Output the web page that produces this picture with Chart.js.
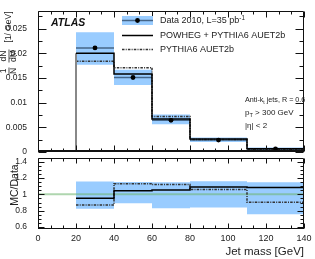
<!DOCTYPE html>
<html lang="en">
<head>
<meta charset="UTF-8">
<title>Jet mass</title>
<script src="https://cdn.jsdelivr.net/npm/chart.js"></script>
<style>
  body { margin: 0; background: #fff; }
  #wrap { position: relative; width: 315px; height: 259px; overflow: hidden; background: #fff; }
  canvas { position: absolute; left: 0; }
  #topChart { top: 0; }
  #ratioChart { top: 150px; }
</style>
</head>
<body>
<div id="wrap">
  <canvas id="topChart" width="315" height="160"></canvas>
  <canvas id="ratioChart" width="315" height="109"></canvas>
</div>
<script>
// bins in jet mass [GeV]
const binEdges = [20, 40, 60, 80, 110, 140];

// upper panel: 1/N dN/dM [1/GeV]
const dataValues = [0.0211, 0.0151, 0.0064, 0.0024, 0.0006];
const dataBandHigh = [0.0243, 0.0167, 0.0076, 0.0029, 0.0009];
const dataBandLow = [0.0177, 0.0136, 0.0056, 0.0020, 0.0004];
const powhegValues = [0.0200, 0.0158, 0.0067, 0.0026, 0.00065];
const pythiaValues = [0.0184, 0.0171, 0.0072, 0.0025, 0.00055];

// lower panel: MC/Data
const ratioBandHigh = [1.157, 1.153, 1.15, 1.162, 1.15];
const ratioBandLow = [0.822, 0.89, 0.83, 0.838, 0.757];
const ratioPowheg = [0.953, 1.043, 1.055, 1.09, 1.083];
const ratioPythia = [0.871, 1.13, 1.12, 1.06, 0.904];

const xTicks = [0, 20, 40, 60, 80, 100, 120, 140];
const topTicks = [0, 0.005, 0.01, 0.015, 0.02, 0.025];
const ratioTicks = [0.6, 0.8, 1, 1.2, 1.4];

const FONT = "'Liberation Sans', Arial, Helvetica, sans-serif";
const BAND = '#99ccff';
const DATA_LINE = '#466688';

Chart.defaults.font.family = FONT;
Chart.defaults.color = '#222';

function stepPoints(values) {
    const pts = [];
    values.forEach((v, i) => {
        pts.push({ x: binEdges[i], y: v });
        pts.push({ x: binEdges[i + 1], y: v });
    });
    return pts;
}

function binSegments(values) {
    const pts = [];
    values.forEach((v, i) => {
        pts.push({ x: binEdges[i], y: v });
        pts.push({ x: binEdges[i + 1], y: v });
        pts.push({ x: binEdges[i + 1], y: null });
    });
    return pts;
}

const binCentres = binEdges.slice(0, -1).map((e, i) => (e + binEdges[i + 1]) / 2);

function fmt(v) {
    return String(parseFloat(v.toFixed(4)));
}

// ROOT-like frame with inward ticks on all sides
function frameTicks(o) {
    return {
        id: 'frameTicks',
        afterDatasetsDraw(chart) {
            const { ctx, chartArea: a, scales: { x, y } } = chart;
            ctx.save();
            ctx.strokeStyle = '#111';
            ctx.lineWidth = 1;
            ctx.beginPath();
            const L = Math.round(a.left) + 0.5, R = Math.round(a.right) - 0.5;
            const T = Math.round(a.top) + 0.5, B = Math.round(a.bottom) - 0.5;
            ctx.moveTo(L, B); ctx.lineTo(L, T); ctx.lineTo(R, T); ctx.lineTo(R, B);
            // x ticks
            for (let i = 0; i <= 21; i++) {
                const v = i * 20 / 3;
                const px = Math.round(x.getPixelForValue(v)) + 0.5;
                const len = i % 3 === 0 ? o.xMaj : o.xMin;
                ctx.moveTo(px, B); ctx.lineTo(px, B - len);
                ctx.moveTo(px, T); ctx.lineTo(px, T + len);
            }
            // y ticks
            const i0 = Math.ceil(y.min / o.yStep - 1e-6), i1 = Math.floor(y.max / o.yStep + 1e-6);
            for (let i = i0; i <= i1; i++) {
                const py = Math.round(y.getPixelForValue(i * o.yStep)) + 0.5;
                const len = i % o.yEvery === 0 ? o.yMaj : o.yMin;
                ctx.moveTo(L, py); ctx.lineTo(L + len, py);
                ctx.moveTo(R, py); ctx.lineTo(R - len, py);
            }
            ctx.stroke();
            ctx.lineWidth = o.bottomWidth;
            ctx.beginPath();
            ctx.moveTo(a.left, a.bottom - o.bottomWidth / 2);
            ctx.lineTo(a.right, a.bottom - o.bottomWidth / 2);
            ctx.stroke();
            ctx.restore();
        }
    };
}

function richText(ctx, parts, x, y, size) {
    let cx = x;
    parts.forEach(p => {
        const s = p.sub || p.sup ? size * 0.7 : size;
        ctx.font = s + 'px ' + FONT;
        const dy = p.sub ? size * 0.3 : p.sup ? -size * 0.35 : 0;
        ctx.fillText(p.t, cx, y + dy);
        cx += ctx.measureText(p.t).width;
    });
}

const topDecor = {
    id: 'topDecor',
    afterDraw(chart) {
        const ctx = chart.ctx;
        ctx.save();
        ctx.fillStyle = '#111';
        ctx.textBaseline = 'middle';
        ctx.font = 'bold italic 10.5px ' + FONT;
        ctx.fillText('ATLAS', 51, 23);

        // legend
        ctx.fillStyle = BAND;
        ctx.fillRect(122, 16, 31, 9);
        ctx.strokeStyle = DATA_LINE; ctx.lineWidth = 1.5;
        ctx.beginPath(); ctx.moveTo(122, 20.5); ctx.lineTo(153, 20.5); ctx.stroke();
        ctx.fillStyle = '#000';
        ctx.beginPath(); ctx.arc(137.5, 20.5, 2.4, 0, Math.PI * 2); ctx.fill();
        ctx.strokeStyle = '#000'; ctx.lineWidth = 1.5;
        ctx.beginPath(); ctx.moveTo(122, 35.5); ctx.lineTo(153, 35.5); ctx.stroke();
        ctx.strokeStyle = '#333'; ctx.setLineDash([2.5, 1.2, 1, 1.2]);
        ctx.beginPath(); ctx.moveTo(122, 49.5); ctx.lineTo(153, 49.5); ctx.stroke();
        ctx.setLineDash([]);

        ctx.fillStyle = '#222';
        richText(ctx, [{ t: 'Data 2010, L=35 pb' }, { t: '-1', sup: true }], 160, 21, 9);
        richText(ctx, [{ t: 'POWHEG + PYTHIA6 AUET2b' }], 160, 36, 9);
        richText(ctx, [{ t: 'PYTHIA6 AUET2b' }], 160, 50, 9);

        // cuts
        richText(ctx, [{ t: 'Anti-k' }, { t: 't', sub: true }, { t: ' jets, R = 0.6' }], 245, 100, 7.2);
        richText(ctx, [{ t: 'p' }, { t: 'T', sub: true }, { t: ' > 300 GeV' }], 245, 113, 8);
        richText(ctx, [{ t: '|\u03b7| < 2' }], 245, 126, 8);

        // y title: 1/N dN/dM [1/GeV]
        ctx.translate(9, 42);
        ctx.rotate(-Math.PI / 2);
        ctx.textAlign = 'center';
        ctx.font = '8.5px ' + FONT;
        ctx.fillText('1', -29, -5);
        ctx.fillText('N', -29, 5);
        ctx.fillText('dN', -14, -5);
        ctx.fillText('dM', -14, 5);
        ctx.fillRect(-32.5, -0.4, 7, 0.8);
        ctx.fillRect(-20.5, -0.4, 13, 0.8);
        ctx.font = '8.5px ' + FONT;
        ctx.fillText('[1/ GeV]', 15, 0);
        ctx.restore();
    }
};

const ratioDecor = {
    id: 'ratioDecor',
    afterDraw(chart) {
        const ctx = chart.ctx;
        ctx.save();
        ctx.fillStyle = '#222';
        ctx.textAlign = 'right';
        ctx.textBaseline = 'middle';
        ctx.font = '11.5px ' + FONT;
        ctx.fillText('Jet mass [GeV]', 304, 102);
        ctx.translate(15, 35);
        ctx.rotate(-Math.PI / 2);
        ctx.textAlign = 'center';
        ctx.font = '10.5px ' + FONT;
        ctx.fillText('MC/Data', 0, 0);
        ctx.restore();
    }
};

const lineDs = (data, color, width, extra) => Object.assign({
    data: data, showLine: true, borderColor: color, borderWidth: width,
    pointRadius: 0, fill: false
}, extra || {});

const commonX = {
    type: 'linear', min: 0, max: 140,
    grid: { display: false }, border: { display: false }
};

function fixWidth(w) { return s => { s.width = w; }; }

new Chart(document.getElementById('topChart'), {
    type: 'scatter',
    data: {
        datasets: [
            lineDs(stepPoints(dataBandHigh), 'rgba(0,0,0,0)', 0, { fill: '+1', backgroundColor: BAND, order: 10 }),
            lineDs(stepPoints(dataBandLow), 'rgba(0,0,0,0)', 0, { order: 9 }),
            lineDs(binSegments(dataValues), DATA_LINE, 1.5, { order: 5, spanGaps: false }),
            lineDs(stepPoints(pythiaValues), '#333', 1.5, { borderDash: [2.5, 1.2, 1, 1.2], order: 4 }),
            lineDs([{ x: binEdges[0], y: 0 }, { x: binEdges[0], y: powhegValues[0] }], '#888', 2, { order: 3 }),
            lineDs(stepPoints(powhegValues), '#000', 1.5, { order: 2 }),
            {
                data: binCentres.map((c, i) => ({ x: c, y: dataValues[i] })),
                pointRadius: 2.4, pointBackgroundColor: '#000', pointBorderWidth: 0, order: 1
            }
        ]
    },
    options: {
        responsive: false, animation: false, devicePixelRatio: 1,
        layout: { padding: { left: 0, right: 11, top: 11, bottom: 7 } },
        plugins: { legend: { display: false }, tooltip: { enabled: false } },
        scales: {
            x: Object.assign({}, commonX, { display: false }),
            y: {
                type: 'linear', min: 0, max: 0.0286,
                grid: { display: false }, border: { display: false },
                afterFit: fixWidth(38),
                afterBuildTicks: s => { s.ticks = topTicks.map(v => ({ value: v })); },
                ticks: { font: { size: 8.5 }, padding: 3, color: '#222', callback: v => fmt(v) }
            }
        }
    },
    plugins: [frameTicks({ xMaj: 6, xMin: 3, yStep: 0.0025, yEvery: 2, yMaj: 8, yMin: 4, bottomWidth: 2 }), topDecor]
});

new Chart(document.getElementById('ratioChart'), {
    type: 'scatter',
    data: {
        datasets: [
            lineDs(stepPoints(ratioBandHigh), 'rgba(0,0,0,0)', 0, { fill: '+1', backgroundColor: BAND, order: 10 }),
            lineDs(stepPoints(ratioBandLow), 'rgba(0,0,0,0)', 0, { order: 9 }),
            lineDs([{ x: xTicks[0], y: 1 }, { x: xTicks[xTicks.length - 1], y: 1 }], 'rgba(110,180,110,0.55)', 2, { order: 5 }),
            lineDs(stepPoints(ratioPythia), '#333', 1.5, { borderDash: [2.5, 1.2, 1, 1.2], order: 4 }),
            lineDs(stepPoints(ratioPowheg), '#000', 1.5, { order: 2 })
        ]
    },
    options: {
        responsive: false, animation: false, devicePixelRatio: 1,
        layout: { padding: { left: 0, right: 11, top: 8, bottom: 0 } },
        plugins: { legend: { display: false }, tooltip: { enabled: false } },
        scales: {
            x: Object.assign({}, commonX, {
                afterFit: s => { s.height = 30; },
                afterBuildTicks: s => { s.ticks = xTicks.map(v => ({ value: v })); },
                ticks: { font: { size: 9 }, padding: -4, color: '#222', maxRotation: 0, autoSkip: false }
            }),
            y: {
                type: 'linear', min: 0.575, max: 1.445,
                grid: { display: false }, border: { display: false },
                afterFit: fixWidth(38),
                afterBuildTicks: s => { s.ticks = ratioTicks.map(v => ({ value: v })); },
                ticks: { font: { size: 8.5 }, padding: 3, color: '#222', callback: v => fmt(v) }
            }
        }
    },
    plugins: [frameTicks({ xMaj: 5, xMin: 3, yStep: 0.05, yEvery: 4, yMaj: 6, yMin: 3, bottomWidth: 1 }), ratioDecor]
});
</script>
</body>
</html>
